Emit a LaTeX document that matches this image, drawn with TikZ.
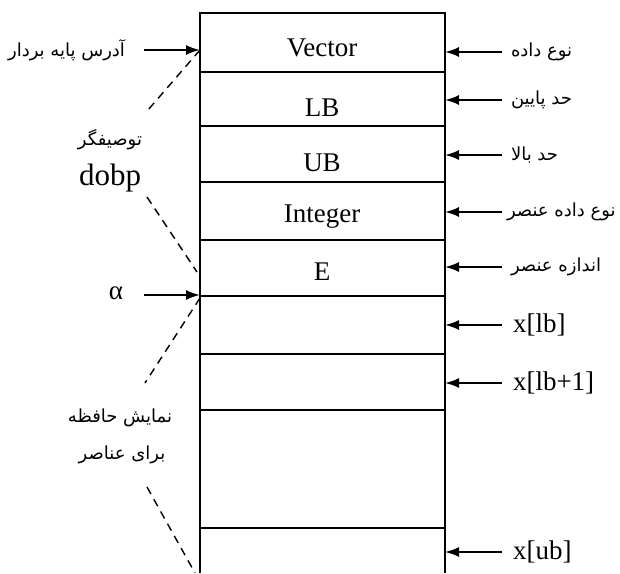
\documentclass[tikz,border=0pt]{standalone}
\usepackage{fontspec}
\setmainfont{Liberation Serif}
\newfontfamily\fafont[Script=Arabic]{DejaVu Sans}
\TeXXeTstate=1
\usetikzlibrary{arrows.meta}
\newcommand{\fa}[1]{{\fafont\beginR #1\endR}}
\begin{document}
\begin{tikzpicture}[x=0.5pt,y=-0.5pt,line width=1pt,
    arr/.style={-{Latex[length=7pt,width=5pt]}},
    brc/.style={dashed,line width=0.7pt,dash pattern=on 4pt off 3pt},
    cell/.style={font=\fontsize{13.5}{15}\selectfont,inner sep=0pt},
    lbl/.style={font=\fontsize{9}{11}\selectfont,inner sep=0pt},
    lat/.style={font=\fontsize{13.5}{15}\selectfont,inner sep=0pt}]
        \useasboundingbox (0,0) rectangle (620,573);
        % memory block
        \draw (200,573) -- (200,13) -- (445,13) -- (445,573);
        \draw (200,72)  -- (445,72)
              (200,126) -- (445,126)
              (200,182) -- (445,182)
              (200,240) -- (445,240)
              (200,296) -- (445,296)
              (200,354) -- (445,354)
              (200,410) -- (445,410)
              (200,528) -- (445,528);
        \node[cell] (vec) at (322,48)  {Vector};
        \node[cell] (lb)  at (322,108) {LB};
        \node[cell] (ub)  at (322,163) {UB};
        \node[cell] (int) at (322,217) {Integer};
        \node[cell] (e)   at (322,272) {E};
        % points on the right edge
        \coordinate (r1) at (445,52);
        \coordinate (r2) at (445,100);
        \coordinate (r3) at (445,155);
        \coordinate (r4) at (445,212);
        \coordinate (r5) at (445,267);
        \coordinate (r6) at (445,325);
        \coordinate (r7) at (445,383);
        \coordinate (r8) at (445,552);
        \node[lbl,anchor=west,inner xsep=4pt] (t1) at (502,52)  {\fa{نوع داده}};
        \node[lbl,anchor=west,inner xsep=4pt] (t2) at (502,100) {\fa{حد پایین}};
        \node[lbl,anchor=west,inner xsep=4pt] (t3) at (502,155) {\fa{حد بالا}};
        \node[lbl,anchor=west,inner xsep=2pt] (t4) at (502,212) {\fa{نوع داده عنصر}};
        \node[lbl,anchor=west,inner xsep=4pt] (t5) at (502,267) {\fa{اندازه عنصر}};
        \node[lat,anchor=west,inner xsep=5pt] (t6) at (502,325) {x[lb]};
        \node[lat,anchor=west,inner xsep=5pt] (t7) at (502,383) {x[lb+1]};
        \node[lat,anchor=west,inner xsep=5pt] (t8) at (502,552) {x[ub]};
        \draw[arr] (t1.west) -- (r1);
        \draw[arr] (t2.west) -- (r2);
        \draw[arr] (t3.west) -- (r3);
        \draw[arr] (t4.west) -- (r4);
        \draw[arr] (t5.west) -- (r5);
        \draw[arr] (t6.west) -- (r6);
        \draw[arr] (t7.west) -- (r7);
        \draw[arr] (t8.west) -- (r8);
        % left side
        \coordinate (l1) at (200,50);
        \coordinate (l2) at (200,295);
        \node[lbl,anchor=east,inner xsep=9pt] (base) at (144,50) {\fa{آدرس پایه بردار}};
        \node[lat,anchor=east,inner xsep=10pt] (alpha) at (144,293) {α};
        \draw[arr] (base.east) -- (l1);
        \draw[arr] (alpha.east |- l2) -- (l2);
        \node[lbl] (desc) at (110,140) {\fa{توصیفگر}};
        \node[font=\fontsize{15.5}{18}\selectfont,inner sep=0pt] (dobp) at (110,178) {dobp};
        \node[lbl] (mem1) at (120,418) {\fa{نمایش حافظه}};
        \node[lbl] (mem2) at (122,455) {\fa{برای عناصر}};
        \coordinate (d1) at (148,110);
        \coordinate (d2) at (147,197);
        \coordinate (d3) at (197,272);
        \coordinate (d4) at (200,298);
        \coordinate (d5) at (145,383);
        \coordinate (d6) at (147,487);
        \coordinate (d7) at (195,573);
        \draw[brc] (l1) -- (d1)
                   (d2) -- (d3)
                   (d4) -- (d5)
                   (d6) -- (d7);
\end{tikzpicture}
\end{document}
